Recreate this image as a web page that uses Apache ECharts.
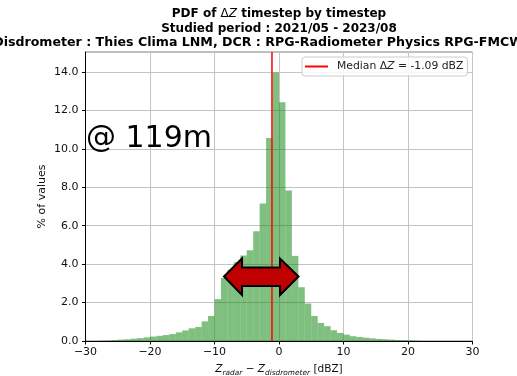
<!DOCTYPE html>
<html><head><meta charset="utf-8">
<script src="https://cdn.jsdelivr.net/npm/echarts@6/dist/echarts.min.js"></script>
<style>html,body{margin:0;padding:0;background:#fff}#c{width:517px;height:376px}</style>
</head><body><div id="c"></div>
<script>
// ---- data ----
const binEdges = [-30,-29,-28,-27,-26,-25,-24,-23,-22,-21,-20,-19,-18,-17,-16,-15,-14,-13,-12,-11,-10,-9,-8,-7,-6,-5,-4,-3,-2,-1,0,1,2,3,4,5,6,7,8,9,10,11,12,13,14,15,16,17,18,19,20,21,22,23,24,25,26,27,28,29,30];
const pdfValues = [0,0,0.01,0.02,0.05,0.07,0.09,0.12,0.15,0.19,
  0.23,0.27,0.31,0.36,0.45,0.55,0.66,0.73,1.02,1.30,
  2.18,3.28,3.70,4.10,4.45,4.72,5.71,7.15,10.56,13.97,
  12.43,7.83,4.43,2.80,1.95,1.30,0.94,0.77,0.56,0.42,
  0.33,0.25,0.21,0.17,0.14,0.11,0.09,0.07,0.05,0.04,
  0.03,0.01,0,0,0,0,0,0,0,0];
const medianDZ = -1.09;
const xTicks = [-30,-20,-10,0,10,20,30];
const yTicks = [0,2,4,6,8,10,12,14];
const yMax = 15.04;
const titleLines = [
  "PDF of ΔZ timestep by timestep",
  "Studied period : 2021/05 - 2023/08",
  "Disdrometer : Thies Clima LNM, DCR : RPG-Radiometer Physics RPG-FMCW-94-SP"
];
const legendLabel = "Median ΔZ = -1.09 dBZ";
const annotation = "@ 119m";

// ---- chart ----
const F = "DejaVu Sans";
const chart = echarts.init(document.getElementById('c'), null, {renderer:'canvas'});
const histData = pdfValues.map((v,i)=>[binEdges[i], binEdges[i+1], v]);
const fmtMinus = v => (v<0 ? '\u2212' + Math.abs(v) : String(v));

const option = {
  animation:false,
  backgroundColor:'#fff',
  grid:{left:85.5, right:44.5, top:52, bottom:35, show:true, borderColor:'#808080', borderWidth:1, backgroundColor:'transparent',
    containLabel:false, outerBoundsMode:'none'},
  xAxis:{type:'value', min:-30, max:30, interval:10,
    axisLine:{show:true, onZero:false, lineStyle:{color:'#000', width:1}},
    axisTick:{show:true, length:3.5, lineStyle:{color:'#000'}, customValues:xTicks},
    axisLabel:{fontFamily:F, fontSize:11, color:'#111', margin:6, formatter:fmtMinus, customValues:xTicks},
    splitLine:{show:true, lineStyle:{color:'#c4c4c4', width:1}},
    name:'{i|Z}{s|radar}{n| \u2212 }{i|Z}{s|disdrometer}{n| [dBZ]}',
    nameLocation:'middle', nameGap:21.5, nameMoveOverlap:false,
    nameTextStyle:{rich:{
      i:{fontFamily:F, fontSize:10.5, fontStyle:'italic', color:'#111', lineHeight:14, verticalAlign:'middle'},
      n:{fontFamily:F, fontSize:10.5, color:'#111', lineHeight:14, verticalAlign:'middle'},
      s:{fontFamily:F, fontSize:7.4, fontStyle:'italic', color:'#111', lineHeight:7, verticalAlign:'bottom'}
    }}
  },
  yAxis:{type:'value', min:0, max:yMax, interval:2,
    axisLine:{show:true, onZero:false, lineStyle:{color:'#000', width:1}},
    axisTick:{show:true, length:3.5, lineStyle:{color:'#000'}, customValues:yTicks},
    axisLabel:{fontFamily:F, fontSize:11, color:'#111', margin:7, customValues:yTicks, formatter:v=>v.toFixed(1)},
    splitLine:{show:true, lineStyle:{color:'#c4c4c4', width:1}},
    name:'% of values', nameLocation:'middle', nameGap:38, nameRotate:90, nameMoveOverlap:false,
    nameTextStyle:{fontFamily:F, fontSize:11, color:'#111'}
  },
  legend:{show:true, left:302, top:57, orient:'horizontal', icon:'rect', itemWidth:23, itemHeight:2,
    padding:[4,4,4,3], backgroundColor:'rgba(255,255,255,0.85)', borderColor:'#cccccc', borderWidth:1, borderRadius:3,
    textStyle:{fontFamily:F, fontSize:10.8, color:'#222', padding:[0,0,0,4],
      rich:{n:{fontFamily:F, fontSize:10.8, color:'#222'}, i:{fontFamily:F, fontSize:10.8, fontStyle:'italic', color:'#222'}}},
    formatter: name => '{n|Median Δ}{i|Z}{n| = -1.09 dBZ}',
    data:[legendLabel]
  },
  series:[
    {type:'custom', name:'hist', data:histData, encode:{x:[0,1], y:2}, z:2,
      renderItem:(params, api)=>{
        const p0 = api.coord([api.value(0), 0]);
        const p1 = api.coord([api.value(1), api.value(2)]);
        return {type:'rect', shape:{x:p0[0], y:p1[1], width:p1[0]-p0[0], height:p0[1]-p1[1]},
          style:{fill:'rgba(0,128,0,0.5)'}};
      }
    },
    {type:'line', name:legendLabel, data:[[medianDZ,0],[medianDZ,yMax]], symbol:'none', z:5,
      lineStyle:{color:'#ff0000', width:1.5}, itemStyle:{color:'#ff0000'}}
  ],
  graphic:[
    {type:'text', x:279, y:14, z:10, style:{text:'{b|PDF of }{m|Δ}{mi|Z}{b| timestep by timestep}', align:'center', verticalAlign:'middle',
      rich:{b:{fontFamily:F, fontSize:12, fontWeight:'bold', fill:'#000'}, m:{fontFamily:F, fontSize:12, fill:'#000'}, mi:{fontFamily:F, fontSize:12, fontStyle:'italic', fill:'#000'}}}},
    {type:'text', x:279, y:28.5, z:10, style:{text:titleLines[1], align:'center', verticalAlign:'middle', font:'bold 12px "DejaVu Sans"', fill:'#000'}},
    {type:'text', x:281, y:43, z:10, style:{text:titleLines[2], align:'center', verticalAlign:'middle', font:'bold 12.6px "DejaVu Sans"', fill:'#000'}},
    {type:'text', x:86, y:139, z:10, style:{text:annotation, align:'left', verticalAlign:'middle', font:'30px "DejaVu Sans"', fill:'#000'}},
    {type:'polygon', z:20, shape:{points:[[224,276.5],[242,258.5],[242,267.5],[280,267.5],[280,258.5],[298.5,276.5],[280,295],[280,286],[242,286],[242,295]]},
      style:{fill:'#c00000', stroke:'#000', lineWidth:2, lineJoin:'miter'}}
  ]
};
chart.setOption(option);
</script></body></html>
